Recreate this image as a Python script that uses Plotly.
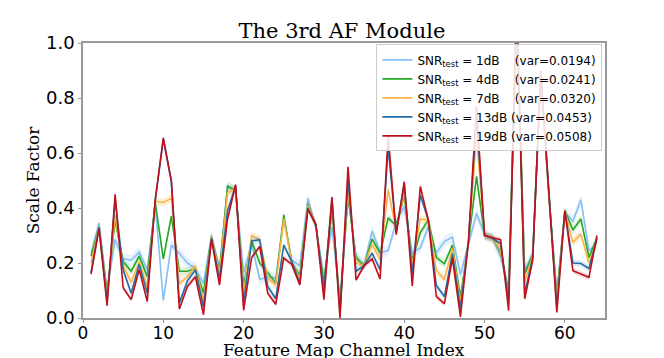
import plotly.graph_objects as go

# channel index 1..64
channels = list(range(1, 65))

snr_labels = ["1dB", "4dB", "7dB", "13dB", "19dB"]
var_labels = ["0.0194", "0.0241", "0.0320", "0.0453", "0.0508"]

snr_1 = [0.235, 0.345, 0.10, 0.285, 0.215, 0.21, 0.24, 0.175, 0.41, 0.065,
         0.265, 0.235, 0.20, 0.18, 0.125, 0.30, 0.18, 0.475, 0.46, 0.165,
         0.27, 0.14, 0.15, 0.145, 0.36, 0.21, 0.19, 0.435, 0.33, 0.15,
         0.33, 0.067, 0.45, 0.224, 0.193, 0.316, 0.238, 0.245, 0.35, 0.405,
         0.236, 0.255, 0.332, 0.236, 0.278, 0.294, 0.158, 0.27, 0.38, 0.305,
         0.29, 0.222, 0.11, 1.10, 0.173, 0.234, 0.87, 0.45, 0.09, 0.385,
         0.352, 0.43, 0.245, 0.27]
snr_4 = [0.225, 0.33, 0.09, 0.355, 0.205, 0.17, 0.225, 0.15, 0.42, 0.215,
         0.37, 0.17, 0.17, 0.18, 0.09, 0.295, 0.17, 0.48, 0.465, 0.115,
         0.28, 0.20, 0.165, 0.127, 0.375, 0.20, 0.155, 0.415, 0.335, 0.125,
         0.39, 0.055, 0.44, 0.218, 0.19, 0.287, 0.235, 0.364, 0.335, 0.445,
         0.21, 0.31, 0.357, 0.22, 0.197, 0.265, 0.077, 0.275, 0.515, 0.30,
         0.292, 0.24, 0.09, 1.12, 0.16, 0.23, 0.88, 0.45, 0.08, 0.39,
         0.32, 0.36, 0.22, 0.29]
snr_7 = [0.20, 0.33, 0.075, 0.375, 0.19, 0.13, 0.205, 0.115, 0.425, 0.42,
         0.435, 0.125, 0.15, 0.188, 0.06, 0.295, 0.16, 0.455, 0.47, 0.09,
         0.30, 0.285, 0.145, 0.12, 0.36, 0.20, 0.14, 0.41, 0.34, 0.10,
         0.42, 0.03, 0.465, 0.20, 0.19, 0.267, 0.212, 0.467, 0.32, 0.46,
         0.19, 0.36, 0.356, 0.173, 0.14, 0.253, 0.055, 0.275, 0.66, 0.30,
         0.29, 0.248, 0.075, 1.13, 0.13, 0.225, 0.89, 0.45, 0.06, 0.39,
         0.275, 0.305, 0.20, 0.28]
snr_13 = [0.165, 0.33, 0.06, 0.43, 0.175, 0.09, 0.195, 0.09, 0.43, 0.65,
          0.495, 0.055, 0.135, 0.175, 0.04, 0.29, 0.14, 0.39, 0.48, 0.055,
          0.28, 0.285, 0.115, 0.07, 0.265, 0.205, 0.125, 0.40, 0.34, 0.10,
          0.435, 0.018, 0.50, 0.17, 0.19, 0.236, 0.175, 0.62, 0.31, 0.49,
          0.16, 0.447, 0.356, 0.118, 0.078, 0.234, 0.035, 0.28, 0.73, 0.30,
          0.29, 0.27, 0.06, 1.14, 0.088, 0.22, 0.89, 0.45, 0.04, 0.39,
          0.20, 0.198, 0.18, 0.29]
snr_19 = [0.16, 0.325, 0.045, 0.45, 0.11, 0.067, 0.176, 0.06, 0.43, 0.655,
          0.50, 0.033, 0.115, 0.15, 0.012, 0.285, 0.12, 0.36, 0.485, 0.028,
          0.22, 0.26, 0.09, 0.05, 0.218, 0.195, 0.12, 0.395, 0.34, 0.067,
          0.44, 0.0, 0.55, 0.138, 0.19, 0.215, 0.142, 0.665, 0.303, 0.495,
          0.117, 0.478, 0.356, 0.078, 0.052, 0.218, 0.004, 0.28, 0.77, 0.30,
          0.292, 0.285, 0.027, 1.15, 0.07, 0.21, 0.90, 0.45, 0.02, 0.39,
          0.172, 0.16, 0.148, 0.30]

series = [snr_1, snr_4, snr_7, snr_13, snr_19]
# half-width of the shaded spread around each curve
spread = [0.02, 0.015, 0.015, 0.012, 0.01]

colors = ["#86c0f7", "#22a822", "#ffb347", "#1f6fa8", "#c0101a"]
fills = ["rgba(134,192,247,0.2)", "rgba(34,168,34,0.15)", "rgba(255,179,71,0.2)",
         "rgba(31,111,168,0.15)", "rgba(192,16,26,0.15)"]

fig = go.Figure()

for vals, s, lab, var, col, fc in zip(series, spread, snr_labels, var_labels, colors, fills):
    upper = [v + s for v in vals]
    lower = [v - s for v in vals]
    fig.add_trace(go.Scatter(x=channels, y=upper, mode="lines", line=dict(width=0),
                             showlegend=False, hoverinfo="skip"))
    fig.add_trace(go.Scatter(x=channels, y=lower, mode="lines", line=dict(width=0),
                             fill="tonexty", fillcolor=fc, showlegend=False, hoverinfo="skip"))
    pad = "\u00a0" * (4 if len(lab) == 3 else 1)
    fig.add_trace(go.Scatter(
        x=channels, y=vals, mode="lines",
        line=dict(color=col, width=1.6),
        name=f"SNR<sub>test</sub> = {lab}{pad}(var={var})",
    ))

fig.update_layout(
    width=664, height=358,
    margin=dict(l=83, r=59, t=43, b=40, autoexpand=False),
    paper_bgcolor="white", plot_bgcolor="white",
    title=dict(text="The 3rd AF Module", x=0.515, xanchor="center", y=0.915, yanchor="middle",
               font=dict(family="DejaVu Serif", size=21, color="black")),
    legend=dict(x=0.995, xanchor="right", y=0.995, yanchor="top", traceorder="normal",
                bgcolor="rgba(255,255,255,0.85)", bordercolor="#cccccc", borderwidth=1,
                font=dict(family="DejaVu Sans", size=12, color="black"),
                itemwidth=30, tracegroupgap=0),
    showlegend=True,
    annotations=[dict(text="Feature Map Channel Index", xref="paper", yref="paper",
                      x=0.5, y=-0.115, xanchor="center", yanchor="middle", showarrow=False,
                      font=dict(family="DejaVu Serif", size=17, color="black"))],
)

fig.update_xaxes(
    range=[0, 65], tickvals=[0, 10, 20, 30, 40, 50, 60], automargin=False,
    showgrid=False, zeroline=False,
    showline=True, linecolor="#999999", linewidth=1.5, mirror=True,
    ticks="outside", ticklen=3, tickcolor="#999999", ticklabelstandoff=-4,
    tickfont=dict(family="DejaVu Sans", size=17, color="black"),
)
fig.update_yaxes(
    range=[0, 1.0], tickvals=[0, 0.2, 0.4, 0.6, 0.8, 1.0], tickformat=".1f", automargin=False,
    showgrid=False, zeroline=False,
    showline=True, linecolor="#999999", linewidth=1.5, mirror=True,
    ticks="outside", ticklen=3, tickcolor="#999999",
    tickfont=dict(family="DejaVu Sans", size=18, color="black"),
    title=dict(text="Scale Factor", standoff=2,
               font=dict(family="DejaVu Serif", size=17, color="black")),
)

fig.write_html("out.html", config={"displayModeBar": False},
               post_script="document.body.style.margin='0';")
